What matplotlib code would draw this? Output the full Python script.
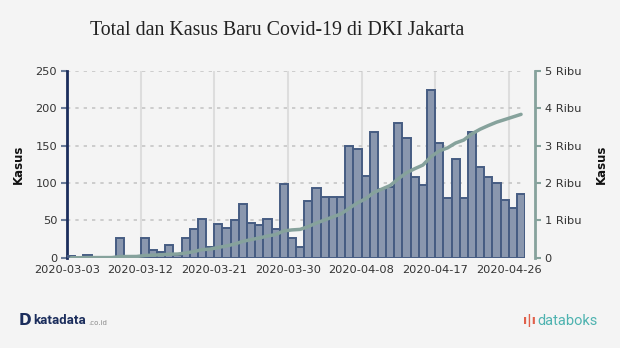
import matplotlib.pyplot as plt
from matplotlib.ticker import FuncFormatter

# daily new cases (left axis) and running total (right axis)
dates = ['2020-03-03', '2020-03-12', '2020-03-21', '2020-03-30',
         '2020-04-08', '2020-04-17', '2020-04-26']
kasus_baru = [3, 1, 4, 0, 0, 0, 27, 1, 1, 26, 10, 8, 17, 4,
              27, 39, 52, 14, 45, 40, 51, 72, 46, 44, 52, 39, 99, 26,
              14, 76, 94, 82, 82, 81, 149, 145, 110, 168, 92, 95, 180, 161,
              108, 98, 224, 154, 80, 132, 80, 168, 121, 108, 100, 77, 67, 86]
total_kasus = [3, 4, 8, 8, 8, 8, 35, 36, 37, 63, 73, 81, 98, 102,
               129, 168, 220, 234, 279, 319, 370, 442, 488, 532, 584, 623, 722, 748,
               762, 838, 932, 1014, 1096, 1177, 1326, 1471, 1581, 1749, 1841, 1936, 2116, 2277,
               2385, 2483, 2707, 2861, 2941, 3073, 3153, 3321, 3442, 3540, 3630, 3700, 3770, 3840]

bg = '#f4f4f4'
bar_fill = '#8a97ae'
bar_edge = '#465c82'
line_col = '#86a29c'

fig = plt.figure(figsize=(6.2, 3.48), dpi=100, facecolor=bg)
ax = fig.add_axes([0.108, 0.259, 0.739, 0.537], facecolor=bg)

x = list(range(len(kasus_baru)))
ax.bar(x, kasus_baru, width=1.0, align='edge', color=bar_fill,
       edgecolor=bar_edge, linewidth=1.4, zorder=3)

ax.set_xlim(0, len(kasus_baru))
ax.set_ylim(0, 250)
ax.set_yticks([0, 50, 100, 150, 200, 250])
ax.set_xticks([0, 9, 18, 27, 36, 45, 54])
ax.set_xticklabels(dates)

# grid: dotted horizontal, solid light vertical
ax.yaxis.grid(True, linestyle=(0, (2, 3)), color='#c6c6c6', linewidth=1.2, zorder=0)
ax.xaxis.grid(True, linestyle='-', color='#dddddd', linewidth=1.5, zorder=0)

for s in ['top', 'right', 'bottom']:
    ax.spines[s].set_visible(False)
ax.spines['left'].set_color('#1b2d5c')
ax.spines['left'].set_linewidth(2)

ax.tick_params(axis='x', length=0, labelsize=8.2, colors='#333333', pad=5)
ax.tick_params(axis='y', length=4, width=1.5, color='#6b7d99', labelsize=8.2,
               labelcolor='#333333', pad=3)
ax.set_ylabel('Kasus', fontsize=8.5, fontweight='bold', color='#111111', labelpad=8)

# right axis for running total
ax2 = ax.twinx()
ax2.plot([i + 0.5 for i in x], total_kasus, color=line_col, linewidth=2.5,
         solid_capstyle='round', zorder=5)
ax2.set_ylim(0, 5000)
ax2.set_yticks([0, 1000, 2000, 3000, 4000, 5000])
ax2.yaxis.set_major_formatter(FuncFormatter(
    lambda v, p: '0' if v == 0 else '%d Ribu' % (v / 1000)))
for s in ['top', 'left', 'bottom']:
    ax2.spines[s].set_visible(False)
ax2.spines['right'].set_position(('outward', 7))
ax2.spines['right'].set_color(line_col)
ax2.spines['right'].set_linewidth(2)
ax2.tick_params(axis='y', length=4, width=1.5, color=line_col, labelsize=8.2,
                labelcolor='#333333', pad=3)
ax2.set_ylabel('Kasus', fontsize=8.5, fontweight='bold', color='#111111', labelpad=10)

# title
fig.text(0.145, 0.912, 'Total dan Kasus Baru Covid-19 di DKI Jakarta',
         fontsize=14.3, family='Liberation Serif', color='#222222', va='center')

# footer logos as text
fig.text(0.030, 0.078, 'D', fontsize=11, fontweight='bold', color='#1b2d5c', va='center')
fig.text(0.054, 0.078, 'katadata', fontsize=9.5, fontweight='bold', color='#1b2d5c',
         va='center', family='Roboto')
fig.text(0.142, 0.072, '.co.id', fontsize=5, color='#8a8a8a', va='center')
fig.text(0.843, 0.078, 'ı|ı', fontsize=9, color='#e0604a', va='center', fontweight='bold')
fig.text(0.866, 0.078, 'databoks', fontsize=10.5, color='#4fb3b0', va='center',
         family='Roboto')

fig.savefig('out.png', dpi=100, facecolor=bg)
